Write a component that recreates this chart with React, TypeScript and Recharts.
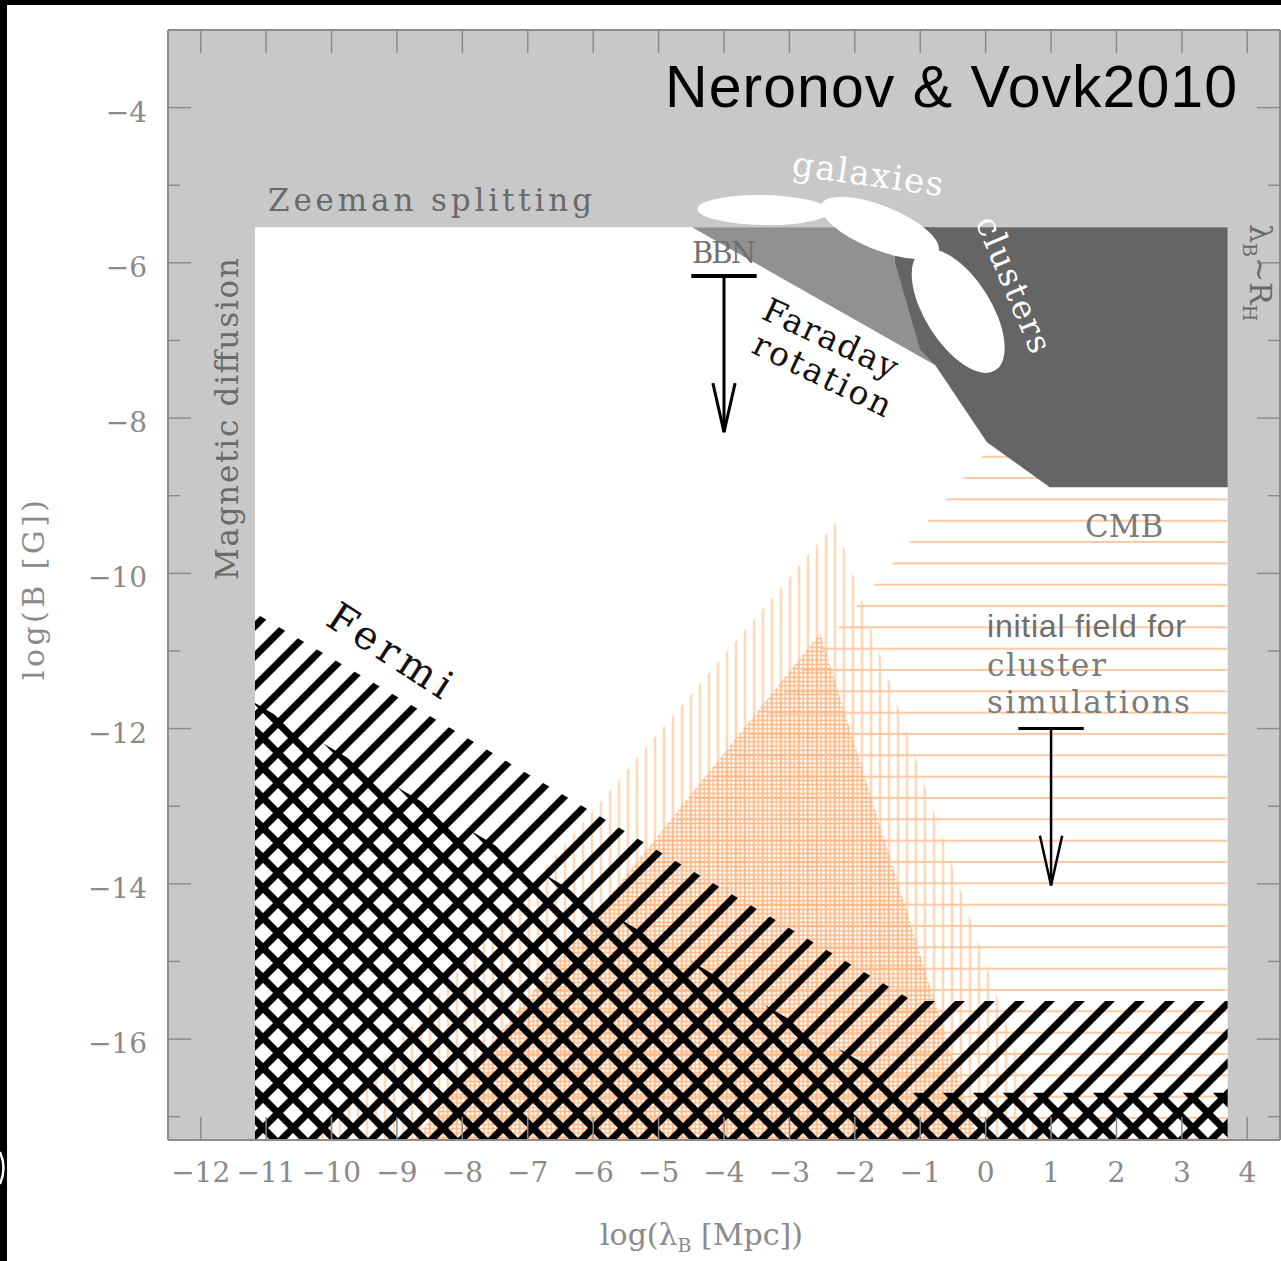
import React from "react";
import { ComposedChart, Area, Line, Scatter, XAxis, YAxis, CartesianGrid } from "recharts";

// ---------- data (log10 lambda_B [Mpc], log10 B [G]) ----------
const X_DOMAIN: [number, number] = [-12.5, 4.5];
const Y_DOMAIN: [number, number] = [-17.3, -3.0];
const X_TICKS = [-12, -11, -10, -9, -8, -7, -6, -5, -4, -3, -2, -1, 0, 1, 2, 3, 4];
const Y_TICKS = [-17, -16, -15, -14, -13, -12, -11, -10, -9, -8, -7, -6, -5, -4];
const Y_LABELLED = [-16, -14, -12, -10, -8, -6, -4];

// allowed (white) window between Zeeman, magnetic diffusion and Hubble radius limits
const ALLOWED_REGION = [
  { x: -11.17, r: [-17.3, -5.54] },
  { x: 3.7, r: [-17.3, -5.54] },
];
// Faraday rotation (mid gray)
const FARADAY_REGION = [
  { x: -4.49, r: [-5.54, -5.54] },
  { x: -0.77, r: [-7.32, -5.54] },
];
// cluster Faraday rotation (dark gray)
const CLUSTER_REGION = [
  { x: -1.385, r: [-6.0, -5.54] },
  { x: -1.0, r: [-7.12, -5.54] },
  { x: -0.77, r: [-7.32, -5.54] },
  { x: 0.02, r: [-8.31, -5.54] },
  { x: 0.98, r: [-8.89, -5.54] },
  { x: 3.7, r: [-8.89, -5.54] },
];
// cosmological field predictions (orange)
const PHASE_WIDE = [
  { x: -10.24, r: [-17.3, -17.3] },
  { x: -2.3, r: [-17.3, -9.35] },
  { x: 0.92, r: [-17.3, -17.3] },
];
const CMB_REGION = [
  { x: -8.83, r: [-17.3, -17.3] },
  { x: 0.42, r: [-17.3, -8.02] },
  { x: 3.7, r: [-17.3, -8.02] },
];
const PHASE_DENSE = [
  { x: -8.74, r: [-17.3, -17.3] },
  { x: -2.53, r: [-17.3, -10.77] },
  { x: -0.12, r: [-17.3, -17.3] },
];
// Fermi lower bounds
const FERMI_HATCH = [
  { x: -11.17, r: [-17.3, -10.51] },
  { x: -1.11, r: [-17.3, -15.51] },
  { x: 3.7, r: [-17.3, -15.51] },
];
const FERMI_CROSS = [
  { x: -11.17, r: [-17.3, -11.67] },
  { x: -1.11, r: [-17.3, -16.69] },
  { x: 3.7, r: [-17.3, -16.69] },
];
// galaxies / clusters ellipses (centres)
const ELLIPSES = [
  { name: "galaxiesA", x: -3.4, y: -5.32 },
  { name: "galaxiesB", x: -1.615, y: -5.55 },
  { name: "clusters", x: -0.42, y: -6.62 },
];
// upper-limit arrows
const BBN_BAR = [{ x: -4.5, y: -6.17 }, { x: -3.5, y: -6.17 }];
const BBN_SHAFT = [{ x: -4.0, y: -6.17 }, { x: -4.0, y: -8.18 }];
const BBN_HEAD = [{ x: -4.17, y: -7.55 }, { x: -4.0, y: -8.18 }, { x: -3.83, y: -7.55 }];
const SIM_BAR = [{ x: 0.5, y: -12.0 }, { x: 1.5, y: -12.0 }];
const SIM_SHAFT = [{ x: 1.0, y: -12.0 }, { x: 1.0, y: -14.02 }];
const SIM_HEAD = [{ x: 0.83, y: -13.38 }, { x: 1.0, y: -14.02 }, { x: 1.17, y: -13.38 }];

// ---------- styles ----------
const AXIS_COLOR = "#8c8c8c";
const LABEL_COLOR = "#8a8a8a";
const SERIF = "DejaVu Serif";
const SANS = "Liberation Sans";
const ELLIPSE_STYLE: Record<string, { rx: number; ry: number; rot: number }> = {
  galaxiesA: { rx: 66, ry: 15, rot: 1 },
  galaxiesB: { rx: 63, ry: 22, rot: 22 },
  clusters: { rx: 70, ry: 33, rot: 58 },
};

const fmt = (v: number) => (v < 0 ? "\u2212" + Math.abs(v) : String(v));

const BottomTick = (p: any) => (
  <g>
    <line x1={p.x} x2={p.x} y1={p.y} y2={p.y - 23} stroke={AXIS_COLOR} strokeWidth={1.5} />
    <text x={p.x} y={p.y + 42} textAnchor="middle" fontFamily={SERIF} fontSize={28} fill={LABEL_COLOR}>
      {fmt(p.payload.value)}
    </text>
  </g>
);
const TopTick = (p: any) => (
  <line x1={p.x} x2={p.x} y1={p.y} y2={p.y + 23} stroke={AXIS_COLOR} strokeWidth={1.5} />
);
const LeftTick = (p: any) => {
  const major = Y_LABELLED.includes(p.payload.value);
  return (
    <g>
      <line x1={p.x} x2={p.x + (major ? 23 : 12)} y1={p.y} y2={p.y} stroke={AXIS_COLOR} strokeWidth={1.5} />
      {major && (
        <text x={p.x - 21} y={p.y + 14} textAnchor="end" fontFamily={SERIF} fontSize={28} fill={LABEL_COLOR}>
          {fmt(p.payload.value)}
        </text>
      )}
    </g>
  );
};
const RightTick = (p: any) => {
  const major = Y_LABELLED.includes(p.payload.value);
  return <line x1={p.x} x2={p.x - (major ? 23 : 12)} y1={p.y} y2={p.y} stroke={AXIS_COLOR} strokeWidth={1.5} />;
};

const EllipseShape = (p: any) => {
  const s = ELLIPSE_STYLE[p.payload?.name] || { rx: 40, ry: 15, rot: 0 };
  return (
    <ellipse
      cx={p.cx}
      cy={p.cy}
      rx={s.rx}
      ry={s.ry}
      fill="#ffffff"
      transform={`rotate(${s.rot} ${p.cx} ${p.cy})`}
    />
  );
};

const Txt = (p: any) => (
  <text
    x={p.x}
    y={p.y}
    transform={p.rot ? `rotate(${p.rot} ${p.x} ${p.y})` : undefined}
    textLength={p.len}
    lengthAdjust={p.len ? "spacing" : undefined}
    fontFamily={p.family || SERIF}
    fontSize={p.size || 30}
    fill={p.fill || "#6f6f6f"}
    textAnchor={p.anchor || "start"}
  >
    {p.children}
  </text>
);

export default function App() {
  const W = 1281;
  const H = 1261;
  return (
    <div style={{ position: "absolute", left: 0, top: 0, width: W, height: H, background: "#fff", overflow: "hidden" }}>
      <div style={{ position: "absolute", left: 0, top: 0 }}>
        <ComposedChart width={W} height={H} margin={{ top: 29, right: 0, bottom: 0, left: 0 }}>
          <defs>
            <pattern id="fermiSlash" patternUnits="userSpaceOnUse" x={11} y={0} width={30} height={30}>
              <path d="M-30,30 L30,-30 M-30,60 L60,-30 M0,60 L60,0" stroke="#000" strokeWidth={7} />
            </pattern>
            <pattern id="fermiBack" patternUnits="userSpaceOnUse" x={5} y={0} width={30} height={30}>
              <path d="M-30,-30 L60,60 M0,-30 L60,30 M-30,0 L30,60" stroke="#000" strokeWidth={7} />
            </pattern>
            <pattern id="vertHatch" patternUnits="userSpaceOnUse" x={2.5} y={0} width={9} height={10}>
              <path d="M4.5,-1 L4.5,11" stroke="#ffc89c" strokeWidth={1.8} />
            </pattern>
            <pattern id="horHatch" patternUnits="userSpaceOnUse" x={0} y={7.8} width={10} height={21.33}>
              <path d="M-1,1 L11,1" stroke="#ffc8a0" strokeWidth={2} />
            </pattern>
            <pattern id="denseGrid" patternUnits="userSpaceOnUse" x={0} y={0} width={4.5} height={4.3}>
              <path d="M2.2,-1 L2.2,5.3 M-1,2.1 L5.5,2.1" stroke="#ffb47e" strokeWidth={1.3} />
            </pattern>
          </defs>
          <CartesianGrid horizontal={false} vertical={false} fill="#c8c8c8" fillOpacity={1} />
          <XAxis
            xAxisId={0}
            dataKey="x"
            type="number"
            domain={X_DOMAIN}
            ticks={X_TICKS}
            interval={0}
            allowDataOverflow
            orientation="bottom"
            height={121}
            tickSize={0}
            tickMargin={0}
            tickLine={false}
            axisLine={{ stroke: AXIS_COLOR, strokeWidth: 2 }}
            tick={(p: any) => <BottomTick {...p} />}
          />
          <XAxis
            xAxisId="top"
            dataKey="x"
            type="number"
            domain={X_DOMAIN}
            ticks={X_TICKS}
            interval={0}
            allowDataOverflow
            orientation="top"
            height={1}
            tickSize={0}
            tickMargin={0}
            tickLine={false}
            axisLine={{ stroke: AXIS_COLOR, strokeWidth: 2 }}
            tick={(p: any) => <TopTick {...p} />}
          />
          <YAxis
            yAxisId={0}
            dataKey="y"
            type="number"
            domain={Y_DOMAIN}
            ticks={Y_TICKS}
            interval={0}
            allowDataOverflow
            orientation="left"
            width={168}
            tickSize={0}
            tickMargin={0}
            tickLine={false}
            axisLine={{ stroke: AXIS_COLOR, strokeWidth: 2 }}
            tick={(p: any) => <LeftTick {...p} />}
          />
          <YAxis
            yAxisId="right"
            dataKey="y"
            type="number"
            domain={Y_DOMAIN}
            ticks={Y_TICKS}
            interval={0}
            allowDataOverflow
            orientation="right"
            width={1}
            tickSize={0}
            tickMargin={0}
            tickLine={false}
            axisLine={{ stroke: AXIS_COLOR, strokeWidth: 2 }}
            tick={(p: any) => <RightTick {...p} />}
          />

          <Area data={ALLOWED_REGION} dataKey="r" type="linear" stroke="none" fill="#ffffff" fillOpacity={1} isAnimationActive={false} />
          <Area data={PHASE_WIDE} dataKey="r" type="linear" stroke="none" fill="url(#vertHatch)" fillOpacity={1} isAnimationActive={false} />
          <Area data={CMB_REGION} dataKey="r" type="linear" stroke="none" fill="url(#horHatch)" fillOpacity={1} isAnimationActive={false} />
          <Area data={PHASE_DENSE} dataKey="r" type="linear" stroke="none" fill="url(#denseGrid)" fillOpacity={1} isAnimationActive={false} />
          <Area data={FARADAY_REGION} dataKey="r" type="linear" stroke="none" fill="#919191" fillOpacity={1} isAnimationActive={false} />
          <Area data={CLUSTER_REGION} dataKey="r" type="linear" stroke="none" fill="#656565" fillOpacity={1} isAnimationActive={false} />
          <Area data={FERMI_HATCH} dataKey="r" type="linear" stroke="none" fill="url(#fermiSlash)" fillOpacity={1} isAnimationActive={false} />
          <Area data={FERMI_CROSS} dataKey="r" type="linear" stroke="none" fill="url(#fermiBack)" fillOpacity={1} isAnimationActive={false} />

          <Scatter data={ELLIPSES} dataKey="y" shape={(p: any) => <EllipseShape {...p} />} isAnimationActive={false} />

          <Line data={BBN_BAR} dataKey="y" type="linear" stroke="#000" strokeWidth={4} dot={false} isAnimationActive={false} />
          <Line data={BBN_SHAFT} dataKey="y" type="linear" stroke="#000" strokeWidth={3} dot={false} isAnimationActive={false} />
          <Line data={BBN_HEAD} dataKey="y" type="linear" stroke="#000" strokeWidth={3} dot={false} isAnimationActive={false} />
          <Line data={SIM_BAR} dataKey="y" type="linear" stroke="#000" strokeWidth={3} dot={false} isAnimationActive={false} />
          <Line data={SIM_SHAFT} dataKey="y" type="linear" stroke="#000" strokeWidth={2.5} dot={false} isAnimationActive={false} />
          <Line data={SIM_HEAD} dataKey="y" type="linear" stroke="#000" strokeWidth={2.5} dot={false} isAnimationActive={false} />
        </ComposedChart>
      </div>

      <svg width={W} height={H} style={{ position: "absolute", left: 0, top: 0, pointerEvents: "none" }}>
        <rect x={0} y={0} width={W} height={5} fill="#000" />
        <rect x={0} y={0} width={7} height={H} fill="#000" />
        <path d="M0,1152 Q7,1168 0,1184" stroke="#ffffff" strokeWidth={2.5} fill="none" />

        <Txt x={665} y={107} len={572} size={59} family={SANS} fill="#000">Neronov &amp; Vovk2010</Txt>
        <Txt x={268} y={211} len={324} size={31} fill="#6a6a6a">Zeeman splitting</Txt>
        <Txt x={238} y={580} rot={-90} len={322} size={31} fill="#6a6a6a">Magnetic diffusion</Txt>
        <Txt x={791} y={175} rot={8} len={152} size={34} fill="#ffffff">galaxies</Txt>
        <Txt x={975} y={222} rot={67} len={145} size={33} fill="#ffffff">clusters</Txt>
        <Txt x={692} y={263} len={64} size={29} fill="#707070">BBN</Txt>
        <Txt x={760} y={318} rot={25} len={145} size={33} fill="#111">Faraday</Txt>
        <Txt x={750} y={352} rot={26} len={150} size={33} fill="#111">rotation</Txt>
        <Txt x={324} y={624} rot={33} len={140} size={40} fill="#111">Fermi</Txt>
        <Txt x={1085} y={537} size={31} fill="#7a7a7a">CMB</Txt>
        <Txt x={987} y={637} len={199} size={32} family={SANS} fill="#6e6e6e">initial field for</Txt>
        <Txt x={987} y={676} len={119} size={31} fill="#7b7b7b">cluster</Txt>
        <Txt x={987} y={713} len={203} size={31} fill="#7b7b7b">simulations</Txt>
        <text x={1250} y={224} transform="rotate(90 1250 224)" fontFamily={SERIF} fontSize={30} fill="#6a6a6a">
          λ<tspan fontSize={19} dy={7}>B</tspan>
          <tspan dy={-7}>~R</tspan>
          <tspan fontSize={19} dy={7}>H</tspan>
        </text>
        <Txt x={44} y={590} rot={-90} len={180} size={30} fill={LABEL_COLOR} anchor="middle">log(B [G])</Txt>
        <text x={600} y={1245} fontFamily={SERIF} fontSize={30} fill={LABEL_COLOR}>
          log(λ<tspan fontSize={19} dy={7}>B</tspan>
          <tspan dy={-7}> [Mpc])</tspan>
        </text>
      </svg>
    </div>
  );
}
